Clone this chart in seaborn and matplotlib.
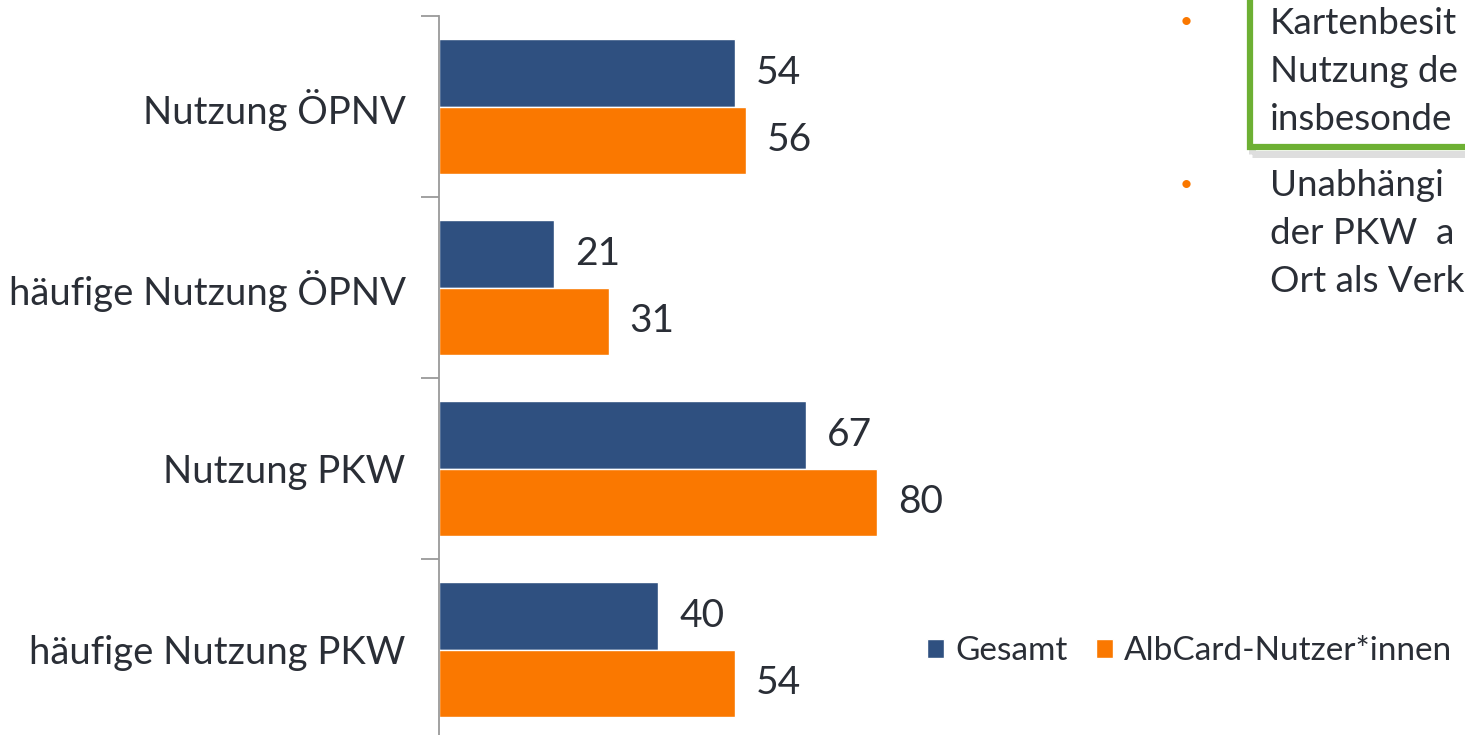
import matplotlib.pyplot as plt
import matplotlib.patches as mpatches
import pandas as pd
import seaborn as sns

# Data
categories = ['Nutzung ÖPNV', 'häufige Nutzung ÖPNV', 'Nutzung PKW', 'häufige Nutzung PKW']
gesamt = [54, 21, 67, 40]
albcard = [56, 31, 80, 54]
groups = ['Gesamt', 'AlbCard-Nutzer*innen']
bullet_1 = ['Kartenbesit', 'Nutzung de', 'insbesonde']
bullet_2 = ['Unabhängi', 'der PKW  a', 'Ort als Verk']

df = pd.DataFrame({
    'Kategorie': categories * 2,
    'Gruppe': [groups[0]] * 4 + [groups[1]] * 4,
    'Wert': gesamt + albcard,
})

sns.set_style('white')
plt.rcParams['font.family'] = ['Lato', 'DejaVu Sans']
text_color = '#2a2e36'
blue = '#2F5080'
orange = '#FA7800'

fig = plt.figure(figsize=(14.65, 7.35), dpi=100)
ax = fig.add_axes([439 / 1465, -5 / 735, 1026 / 1465, 724 / 735])

sns.barplot(data=df, y='Kategorie', x='Wert', hue='Gruppe', order=categories,
            hue_order=groups, palette=[blue, orange], saturation=1, width=0.75,
            orient='h', edgecolor='white', linewidth=1, ax=ax)

ax.set_xlim(0, 1026 / 5.48)
ax.set_ylim(3.5, -0.5)
ax.set_xlabel('')
ax.set_ylabel('')
ax.set_xticks([])

# tick marks between categories, labels at category centers
ax.set_yticks([-0.5, 0.5, 1.5, 2.5])
ax.set_yticklabels([])
ax.tick_params(axis='y', which='major', length=13, width=1.3, color='#9a9a9a', left=True)
ax.set_yticks(range(len(categories)), minor=True)
ax.set_yticklabels(categories, minor=True, fontsize=27.5, color=text_color)
ax.tick_params(axis='y', which='minor', length=0, pad=24)

for s in ['top', 'right', 'bottom']:
    ax.spines[s].set_visible(False)
ax.spines['left'].set_color('#9a9a9a')
ax.spines['left'].set_linewidth(1.3)

for cont in ax.containers:
    ax.bar_label(cont, padding=15, fontsize=28, color=text_color)

sns.move_legend(ax, loc='center left', bbox_to_anchor=(927 / 1465, 84 / 735),
                bbox_transform=fig.transFigure, ncol=2, frameon=False, title=None,
                fontsize=24, handlelength=0.5, handleheight=0.5, handletextpad=0.35,
                columnspacing=0.85, borderpad=0, borderaxespad=0)
for t in ax.get_legend().get_texts():
    t.set_color(text_color)

# side text from the slide
shadow = mpatches.Rectangle((1252 / 1465, 1 - 154 / 735), 0.3, 0.3, transform=fig.transFigure,
                            facecolor='none', edgecolor='#dedede', linewidth=5, zorder=1)
fig.patches.append(shadow)
box = mpatches.Rectangle((1250 / 1465, 1 - 147 / 735), 0.3, 0.3, transform=fig.transFigure,
                         facecolor='white', edgecolor='#6DB033', linewidth=4.5, zorder=2)
fig.patches.append(box)

for i, line in enumerate(bullet_1):
    fig.text(1270 / 1465, 1 - (24 + i * 47.5) / 735, line, fontsize=26.5,
             color=text_color, va='center', ha='left', zorder=3)
for i, line in enumerate(bullet_2):
    fig.text(1270 / 1465, 1 - (186 + i * 47.5) / 735, line, fontsize=26.5,
             color=text_color, va='center', ha='left', zorder=3)
for y in [22, 185]:
    fig.text(1186 / 1465, 1 - y / 735, '•', fontsize=16, color=orange, va='center', ha='center')

fig.savefig('out.png', dpi=100)
